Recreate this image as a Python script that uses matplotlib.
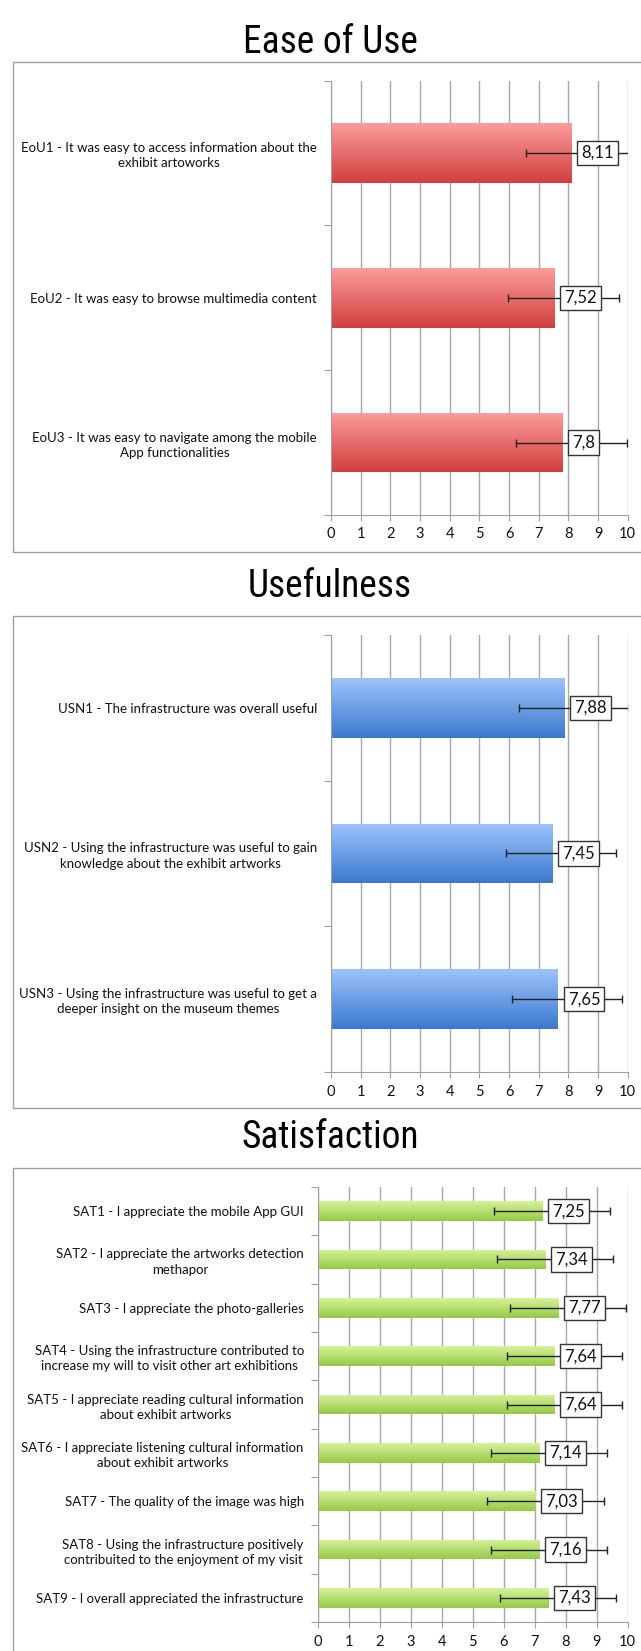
import numpy as np
import matplotlib
matplotlib.use("Agg")
from matplotlib import pyplot as plt
from matplotlib.colors import LinearSegmentedColormap
from matplotlib.patches import Rectangle
from matplotlib import font_manager

plt.rcParams['font.family'] = ['Lato', 'DejaVu Sans']

# Ease of Use
eou_labels = ["EoU1 - It was easy to access information about the\nexhibit artoworks",
              "EoU2 - It was easy to browse multimedia content",
              "EoU3 - It was easy to navigate among the mobile\nApp functionalities"]
eou_values = [8.11, 7.52, 7.8]
eou_err_lo = [1.54, 1.56, 1.55]
eou_err_hi = [2.17, 2.17, 2.17]

# Usefulness
usn_labels = ["USN1 - The infrastructure was overall useful",
              "USN2 - Using the infrastructure was useful to gain\nknowledge about the exhibit artworks",
              "USN3 - Using the infrastructure was useful to get a\ndeeper insight on the museum themes"]
usn_values = [7.88, 7.45, 7.65]
usn_err_lo = [1.55, 1.56, 1.55]
usn_err_hi = [2.17, 2.16, 2.17]

# Satisfaction
sat_labels = ["SAT1 - I appreciate the mobile App GUI",
              "SAT2 - I appreciate the artworks detection\nmethapor",
              "SAT3 - I appreciate the photo-galleries",
              "SAT4 - Using the infrastructure contributed to\nincrease my will to visit other art exhibitions",
              "SAT5 - I appreciate reading cultural information\nabout exhibit artworks",
              "SAT6 - I appreciate listening cultural information\nabout exhibit artworks",
              "SAT7 - The quality of the image was high",
              "SAT8 - Using the infrastructure positively\ncontribuited to the enjoyment of my visit",
              "SAT9 - I overall appreciated the infrastructure"]
sat_values = [7.25, 7.34, 7.77, 7.64, 7.64, 7.14, 7.03, 7.16, 7.43]
sat_err_lo = [1.56, 1.56, 1.57, 1.54, 1.54, 1.56, 1.56, 1.56, 1.55]
sat_err_hi = [2.18, 2.17, 2.17, 2.17, 2.17, 2.18, 2.19, 2.18, 2.18]

W, H = 641, 1651
fig = plt.figure(figsize=(W / 100, H / 100), dpi=100)


def fy(px):
    return 1 - px / H


def panel(left, top, bottom, labels, values, err_lo, err_hi, c_top, c_bot):
    ax = fig.add_axes([left / W, fy(bottom), (627.7 - left) / W, (bottom - top) / H])
    n = len(values)
    y = np.arange(n)
    bars = ax.barh(y, values, height=0.41, color=c_bot, zorder=2)
    cmap = LinearSegmentedColormap.from_list('grad', [c_bot, c_top])
    grad = np.linspace(0, 1, 100).reshape(-1, 1)
    for b in bars:
        x0, y0, w, h = b.get_x(), b.get_y(), b.get_width(), b.get_height()
        im = ax.imshow(grad, cmap=cmap, extent=(x0, x0 + w, y0 + h, y0),
                       origin='lower', aspect='auto', zorder=2)
        im.set_clip_path(b)
    ax.errorbar(values, y, xerr=[err_lo, err_hi], fmt='none', ecolor='#222222',
                elinewidth=1, capsize=3, capthick=1, zorder=3)
    for v, yi in zip(values, y):
        ax.annotate(f"{v:g}".replace('.', ','), (v, yi), xytext=(7, 0),
                    textcoords='offset points', ha='left', va='center', fontsize=12,
                    color='#111111',
                    bbox=dict(boxstyle='square,pad=0.25', fc='white', ec='#333333', lw=1),
                    zorder=5)
    ax.set_xlim(0, 10)
    ax.set_ylim(n - 0.5, -0.5)
    ax.set_xticks(range(11))
    ax.grid(axis='x', color='#a8a8a8', lw=1)
    ax.set_axisbelow(True)
    ax.set_yticks(np.arange(n + 1) - 0.5)
    ax.set_yticklabels([])
    ax.set_yticks(y, labels, minor=True)
    for t in ax.get_yticklabels(minor=True):
        t.set_multialignment('center')
        t.set_linespacing(1.3)
    ax.tick_params(axis='y', which='minor', length=0, pad=10, labelsize=9.5, labelcolor='#111111')
    ax.tick_params(axis='y', which='major', length=5, color='#a0a0a0')
    ax.tick_params(axis='x', length=4, color='#a0a0a0', labelsize=10.5, pad=5, labelcolor='#111111')
    for s in ['top', 'right']:
        ax.spines[s].set_visible(False)
    for s in ['left', 'bottom']:
        ax.spines[s].set_color('#a0a0a0')
    return ax


# frames round each chart
for top, bottom in [(62, 552), (616, 1108), (1168, 1700)]:
    fig.add_artist(Rectangle((12.7 / W, fy(bottom)), 1.0, (bottom - top) / H,
                             transform=fig.transFigure, fill=False,
                             edgecolor='#a0a0a0', lw=1))

# narrow font for the titles, if one is there
names = {f.name for f in font_manager.fontManager.ttflist}
narrow = [n for n in ['Liberation Sans Narrow', 'DejaVu Sans Condensed', 'Roboto Condensed']
          if n in names]
if narrow:
    title_font = [narrow[0], 'DejaVu Sans']
    title_size = 27
else:
    title_font = ['Liberation Sans', 'DejaVu Sans']
    title_size = 24

fig.text(0.515, fy(53), "Ease of Use", ha='center', va='baseline', fontsize=title_size,
         family=title_font, fontstretch='condensed')
fig.text(0.515, fy(596.7), "Usefulness", ha='center', va='baseline', fontsize=title_size,
         family=title_font, fontstretch='condensed')
fig.text(0.515, fy(1148), "Satisfaction", ha='center', va='baseline', fontsize=title_size,
         family=title_font, fontstretch='condensed')

panel(331, 80.7, 515, eou_labels, eou_values, eou_err_lo, eou_err_hi, '#fb9c9c', '#d23e3e')
panel(331, 635, 1072, usn_labels, usn_values, usn_err_lo, usn_err_hi, '#9dc3fb', '#3b79cf')
panel(317.7, 1187, 1622, sat_labels, sat_values, sat_err_lo, sat_err_hi, '#d6f29a', '#96ca46')

plt.savefig("out.png", dpi=100)
